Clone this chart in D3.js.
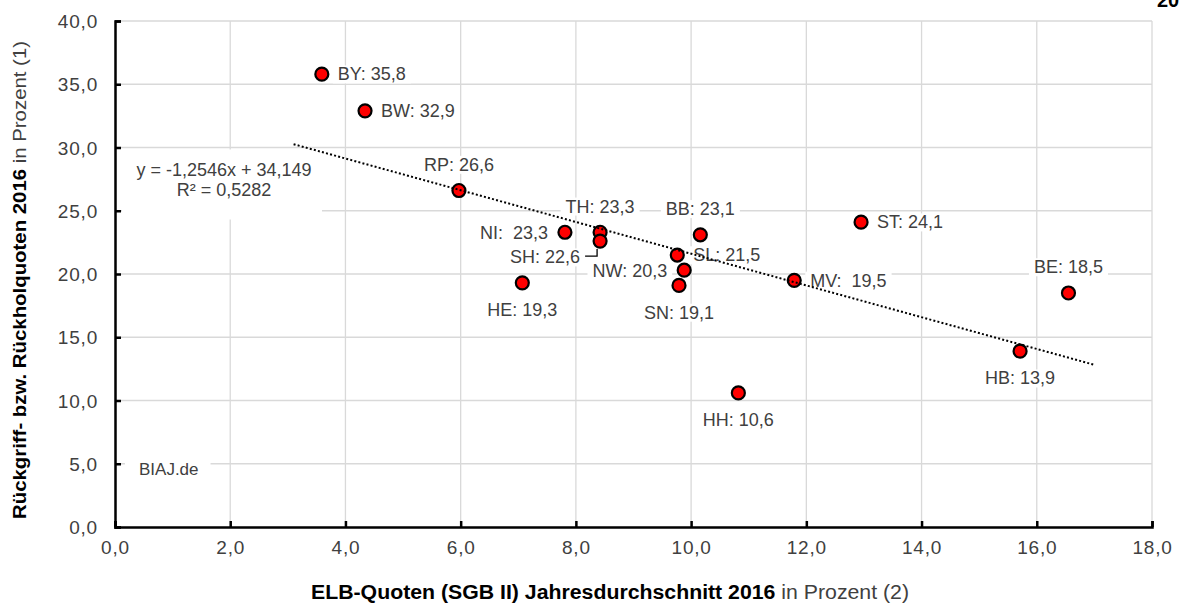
<!DOCTYPE html>
<html><head><meta charset="utf-8">
<script src="https://cdn.jsdelivr.net/npm/d3@7"></script>
<style>
body{margin:0;background:#fff;}
svg{display:block;font-family:"Liberation Sans",Arial,sans-serif;}
</style></head><body>
<svg id="c" width="1180" height="603"></svg>
<script>
// ---- data ----
const states     = ["BY","BW","RP","NI","TH","SH","BB","SL","NW","SN","HE","MV","ST","BE","HB","HH"];
const elbQuote   = [3.59,4.34,5.97,7.81,8.42,8.42,10.16,9.76,9.88,9.79,7.07,11.79,12.95,16.55,15.71,10.82];
const rueckQuote = [35.8,32.9,26.6,23.3,23.3,22.6,23.1,21.5,20.3,19.1,19.3,19.5,24.1,18.5,13.9,10.6];
const pointLabels = ["BY: 35,8","BW: 32,9","RP: 26,6","NI:  23,3","TH: 23,3","SH: 22,6","BB: 23,1","SL: 21,5",
                     "NW: 20,3","SN: 19,1","HE: 19,3","MV:  19,5","ST: 24,1","BE: 18,5","HB: 13,9","HH: 10,6"];
const xTicks = [0,2,4,6,8,10,12,14,16,18];
const yTicks = [0,5,10,15,20,25,30,35,40];
const trendSlope = -1.2546, trendIntercept = 34.149, trendR2 = 0.5282;
const trendRange = [3.1, 17.0];
const eqLines = ["y = -1,2546x + 34,149", "R² = 0,5282"];
const xTitleBold = "ELB-Quoten (SGB II) Jahresdurchschnitt 2016", xTitleRest = " in Prozent (2)";
const yTitleBold = "Rückgriff- bzw. Rückholquoten 2016", yTitleRest = " in Prozent (1)";
const sourceText = "BIAJ.de";
const titleText = "20";

// ---- drawing ----
const svg = d3.select("#c");
const L = 115, R = 1152, T = 21, B = 527;
const x = d3.scaleLinear().domain([0,18]).range([L,R]);
const y = d3.scaleLinear().domain([0,40]).range([B,T]);
const fmt = v => d3.format(".1f")(v).replace(".", ",");
const textCol = "#404040";

// grid
const g = svg.append("g");
g.selectAll(".vg").data(xTicks.slice(1)).join("line")
  .attr("x1",d=>x(d)).attr("x2",d=>x(d)).attr("y1",T).attr("y2",B)
  .attr("stroke","#d9d9d9").attr("stroke-width",1.3);
g.selectAll(".hg").data(yTicks.slice(1)).join("line")
  .attr("x1",L).attr("x2",R).attr("y1",d=>y(d)).attr("y2",d=>y(d))
  .attr("stroke","#d9d9d9").attr("stroke-width",1.3);

// axes
const xAxis = d3.axisBottom(x).tickValues(xTicks).tickSize(-6).tickPadding(14).tickFormat(fmt);
const yAxis = d3.axisLeft(y).tickValues(yTicks).tickSize(-6).tickPadding(17).tickFormat(fmt);
const gx = svg.append("g").attr("transform",`translate(0,${B})`).call(xAxis);
const gy = svg.append("g").attr("transform",`translate(${L},0)`).call(yAxis);
[gx,gy].forEach(a=>{
  a.select(".domain").attr("stroke","#000").attr("stroke-width",2.5);
  a.selectAll(".tick line").attr("stroke","#000").attr("stroke-width",2.5);
  a.selectAll(".tick text").attr("fill",textCol).style("font-size","19px")
   .style("font-family",'"Liberation Sans",Arial,sans-serif').style("letter-spacing","0.8px");
});
gx.selectAll(".tick text").attr("dy","0.71em");
gy.selectAll(".tick text").attr("dy","0.35em");

// labels with white backgrounds
const place = {BY:"r",BW:"r",RP:"a",NI:"l",TH:"a",SH:"l",BB:"a",SL:"r",NW:"l",SN:"b",HE:"b",MV:"r",ST:"r",BE:"a",HB:"b",HH:"b"};
const pts = states.map((s,i)=>({s, xv:elbQuote[i], yv:rueckQuote[i], lab:pointLabels[i]}));
const lg = svg.append("g");
pts.forEach(p=>{
  const px = x(p.xv), py = y(p.yv), pl = place[p.s];
  let tx = px, ty = py, anchor = "middle";
  if (pl==="r"){ tx = px+16; anchor="start"; }
  if (pl==="l"){ tx = px-17; anchor="end"; }
  if (pl==="a"){ ty = py-26; }
  if (pl==="b"){ ty = py+27; }
  if (p.s==="SH"){ tx = px-20; ty = py+16; }
  const grp = lg.append("g");
  const t = grp.append("text").attr("x",tx).attr("y",ty).attr("dy","0.35em")
    .attr("text-anchor",anchor).attr("fill",textCol).style("font-size","18px")
    .attr("xml:space","preserve").style("white-space","pre").text(p.lab);
  const bb = t.node().getBBox();
  grp.insert("rect","text").attr("x",bb.x-5).attr("y",bb.y+1).attr("width",bb.width+10).attr("height",bb.height-2).attr("fill","#fff");
  if (p.s==="SH"){
    grp.append("path").attr("d",`M${px-15},${py+15}H${px-3}V${py+8}`).attr("fill","none").attr("stroke","#000").attr("stroke-width",1.3);
  }
});

// equation box
const eq = svg.append("g");
const eqt = eq.append("text").attr("text-anchor","middle").attr("fill",textCol).style("font-size","18px");
eqLines.forEach((ln,i)=> eqt.append("tspan").attr("x",224).attr("y",y(28.25)+i*20.5).attr("dy","0.35em").text(ln));
eq.insert("rect","text").attr("x",122).attr("y",y(30)+2).attr("width",200).attr("height",70).attr("fill","#fff");

// source
const src = svg.append("g");
const st = src.append("text").attr("x",139).attr("y",y(5)+5).attr("dy","0.35em").attr("fill",textCol).style("font-size","17px").text(sourceText);
const sb = st.node().getBBox();
src.insert("rect","text").attr("x",sb.x-14).attr("y",sb.y).attr("width",sb.width+26).attr("height",sb.height).attr("fill","#fff");

// points
svg.append("g").selectAll("circle").data(pts).join("circle")
  .attr("cx",d=>x(d.xv)).attr("cy",d=>y(d.yv)).attr("r",6.5)
  .attr("fill","#ff0000").attr("stroke","#000").attr("stroke-width",2.2);

// trend line
svg.append("line")
  .attr("x1",x(trendRange[0])).attr("y1",y(trendIntercept+trendSlope*trendRange[0]))
  .attr("x2",x(trendRange[1])).attr("y2",y(trendIntercept+trendSlope*trendRange[1]))
  .attr("stroke","#000").attr("stroke-width",2).attr("stroke-dasharray","2,2.2");

// axis titles
const xt = svg.append("text").attr("x",610).attr("y",592).attr("dy","0.35em").attr("text-anchor","middle")
  .attr("textLength",598).attr("lengthAdjust","spacingAndGlyphs").style("font-size","19.5px").attr("fill","#000");
xt.append("tspan").style("font-weight","bold").text(xTitleBold);
xt.append("tspan").attr("fill",textCol).text(xTitleRest);
const yt = svg.append("text").attr("transform","translate(20,280) rotate(-90)").attr("dy","0.35em").attr("text-anchor","middle")
  .attr("textLength",478).attr("lengthAdjust","spacingAndGlyphs").style("font-size","18.5px").attr("fill","#000");
yt.append("tspan").style("font-weight","bold").text(yTitleBold);
yt.append("tspan").attr("fill",textCol).text(yTitleRest);

// clipped title remnant
svg.append("text").attr("x",1157).attr("y",7).style("font-size","20px").style("font-weight","bold").attr("fill","#000").text(titleText);
</script></body></html>
